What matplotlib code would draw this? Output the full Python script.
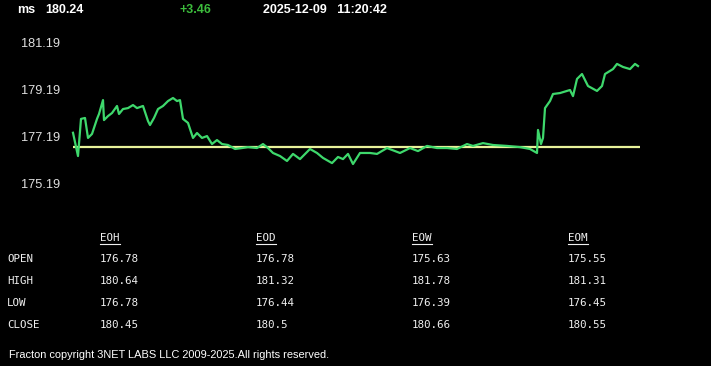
#! /usr/bin/env python3
# Intraday price chart with period OHLC table, black terminal style.

import numpy as np
from matplotlib import pyplot as plt

symbol = "ms"
last_price = 180.24
change = "+3.46"
stamp = "2025-12-09   11:20:42"
prev_close = 176.78

# minutes from session start, price
minutes = [0, 5, 8, 12, 15, 19, 24, 26, 30, 31, 35, 39, 44, 46, 50, 55, 60, 64, 70,
           75, 77, 81, 85, 90, 95, 100, 104, 107, 110, 115, 120, 124, 129, 134, 139,
           144, 149, 155, 162, 169, 175, 184, 190, 195, 200, 207, 214, 220, 227, 237,
           244, 250, 259, 265, 270, 275, 280, 287, 297, 304, 314, 327, 337, 345, 354,
           364, 374, 384, 394, 400, 410, 420, 434, 447, 457, 464, 465, 468, 470, 472,
           477, 480, 487, 497, 500, 504, 509, 515, 524, 529, 532, 540, 544, 550, 557,
           562, 565]
prices = [177.37, 176.38, 177.96, 178.00, 177.15, 177.32, 177.96, 178.17, 178.76,
          177.91, 178.08, 178.21, 178.51, 178.17, 178.38, 178.42, 178.55, 178.42,
          178.51, 177.87, 177.70, 178.00, 178.38, 178.51, 178.72, 178.85, 178.72,
          178.76, 177.96, 177.79, 177.15, 177.36, 177.15, 177.23, 176.89, 177.06,
          176.89, 176.85, 176.68, 176.72, 176.76, 176.72, 176.89, 176.72, 176.51,
          176.38, 176.17, 176.47, 176.25, 176.68, 176.51, 176.30, 176.08, 176.34,
          176.25, 176.47, 176.04, 176.51, 176.51, 176.47, 176.72, 176.51, 176.72,
          176.59, 176.81, 176.72, 176.72, 176.68, 176.89, 176.81, 176.93, 176.85,
          176.81, 176.76, 176.68, 176.51, 177.49, 176.89, 177.15, 178.42, 178.72,
          179.02, 179.06, 179.19, 178.93, 179.66, 179.87, 179.36, 179.15, 179.36,
          179.87, 180.08, 180.30, 180.17, 180.08, 180.30, 180.21]
session_len = 567

y_ticks = [175.19, 177.19, 179.19, 181.19]

periods = ["EOH", "EOD", "EOW", "EOM"]
rows = ["OPEN", "HIGH", "LOW", "CLOSE"]
table = {
    "EOH": ["176.78", "180.64", "176.78", "180.45"],
    "EOD": ["176.78", "181.32", "176.44", "180.5"],
    "EOW": ["175.63", "181.78", "176.39", "180.66"],
    "EOM": ["175.55", "181.31", "176.45", "180.55"],
}

W, H = 711, 366
fig = plt.figure(figsize=(W / 100, H / 100), dpi=100, facecolor="black")

def px(x, y):
    "pixel coords (top-left origin) to figure fraction"
    return x / W, 1 - y / H

ax = fig.add_axes([73 / W, 1 - 184 / H, (640 - 73) / W, (184 - 43) / H])
ax.set_facecolor("black")
ax.plot(minutes, prices, color="#3ed86c", lw=1.6, clip_on=False, zorder=3)
ax.axhline(prev_close, color="#e8f29a", lw=1.6, zorder=2)
ax.set_xlim(0, session_len)
ax.set_ylim(y_ticks[0], y_ticks[-1])
ax.set_xticks([])
ax.set_yticks(y_ticks)
ax.set_yticklabels([f"{v:.2f}" for v in y_ticks])
ax.tick_params(axis="y", length=0, pad=9, labelsize=9.2, labelcolor="#e0e0e0")
for lab in ax.get_yticklabels():
    lab.set_family(["Liberation Sans", "DejaVu Sans"])
for s in ax.spines.values():
    s.set_visible(False)

hdr = dict(family=["Liberation Sans", "DejaVu Sans"],
           fontsize=9, fontweight="bold", va="center", ha="left")
fig.text(*px(17, 10), symbol, color="white", **hdr)
fig.text(*px(45, 10), f"{last_price:.2f}", color="white", **hdr)
fig.text(*px(180, 10), change, color="#3cbc3c", **hdr)
fig.text(*px(263, 10), stamp, color="white", **hdr)

mono = dict(family="DejaVu Sans Mono", fontsize=7.8, color="#f0f0f0",
            va="center", ha="left")
col_x = [100, 256, 412, 568]
row_y = [259, 281, 303, 325]
for cx, p in zip(col_x, periods):
    fig.text(*px(cx, 238), p, **mono)
    fig.add_artist(plt.Line2D([cx / W, (cx + 20) / W],
                              [1 - 244 / H, 1 - 244 / H],
                              color="#f0f0f0", lw=0.8))
    for ry, v in zip(row_y, table[p]):
        fig.text(*px(cx, ry), v, **mono)
for ry, r in zip(row_y, rows):
    fig.text(*px(7, ry), r, **mono)

fig.text(*px(9, 355), "Fracton copyright 3NET LABS LLC 2009-2025.All rights reserved.",
         family=["Liberation Sans", "DejaVu Sans"], fontsize=7.9, color="white",
         va="center", ha="left")

fig.savefig("out.png", dpi=100, facecolor="black")
